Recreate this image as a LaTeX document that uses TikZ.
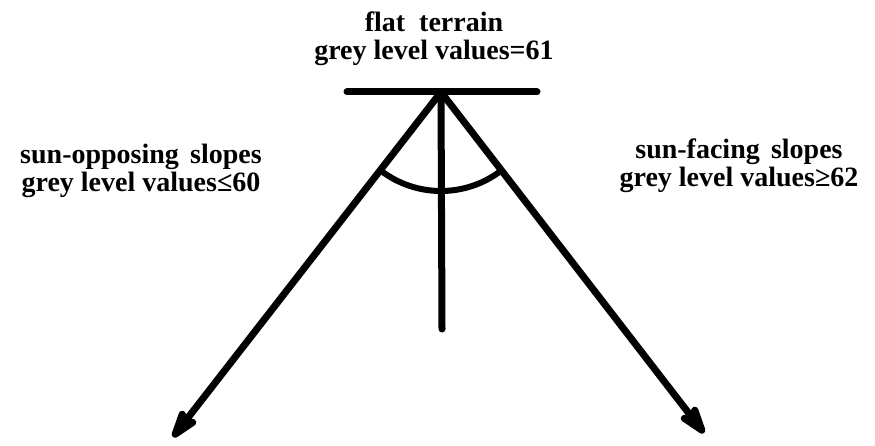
\documentclass[tikz,border=0pt]{standalone}
\usepackage{fontspec}
\setmainfont{Liberation Serif}
\usetikzlibrary{arrows.meta,calc}
\begin{document}
\begin{tikzpicture}[x=1pt,y=1pt,
  lbl/.style={align=center,font=\fontsize{28}{28}\selectfont\bfseries,inner sep=0pt},
  ray/.style={line width=7pt,line cap=round},
  tip/.style={-{Stealth[length=38pt,width=24pt,inset=6pt,round]}}]
\useasboundingbox (0,0) rectangle (875,445);
\coordinate (apex) at (441,353);
\coordinate (hl) at (347,353);
\coordinate (hr) at (537,353);
\coordinate (vb) at (442,116);
\coordinate (lt) at (173,8);
\coordinate (rt) at (704,12);
\draw[ray] (hl) -- (hr);
\draw[ray] (apex) -- (vb);
\draw[ray,tip] (apex) -- (lt);
\draw[ray,tip] (apex) -- (rt);
\draw[line width=6pt] ($(apex)+(232.1:99)$) arc[start angle=232.1,end angle=307.8,radius=99];
\node[lbl] (top) at (434,406) {flat\hspace{0.5em}terrain\\grey level values=61};
\node[lbl] (left) at (141,274) {sun-opposing\hspace{0.4em}slopes\\grey level values≤60};
\node[lbl] (right) at (739,279) {sun-facing\hspace{0.4em}slopes\\grey level values≥62};
\end{tikzpicture}
\end{document}
